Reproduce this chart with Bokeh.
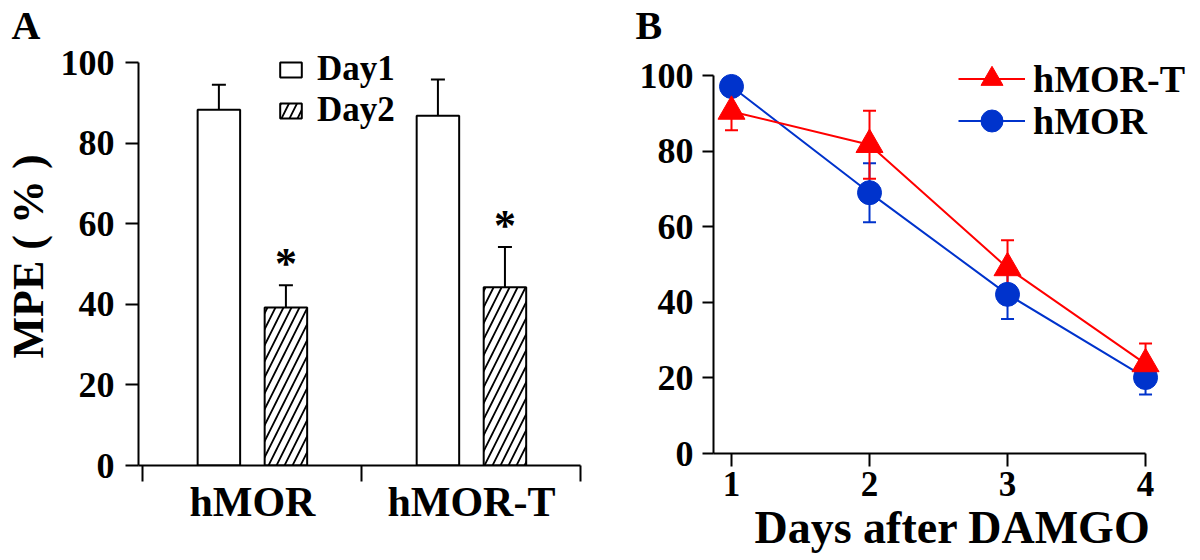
from bokeh.plotting import figure
from bokeh.models import (FixedTicker, Whisker, TeeHead, ColumnDataSource, Legend,
                          LegendItem, Range1d, Title)
from bokeh.layouts import row
from bokeh.embed import file_html
from bokeh.resources import INLINE
from bokeh.core.properties import value

# ---------------- data ----------------
groups = ["hMOR", "hMOR-T"]
day1_mpe = [88.3, 86.8]
day1_err = [6.2, 9.0]
day2_mpe = [39.2, 44.2]
day2_err = [5.5, 10.0]
sig_marks = ["*", "*"]

days = [1, 2, 3, 4]
hmor_mpe = [97.1, 69.0, 42.1, 20.1]
hmor_err = [2.0, 7.8, 6.5, 4.5]
hmort_mpe = [90.5, 81.7, 49.1, 23.7]
hmort_err = [5.0, 9.0, 7.3, 5.4]
y_ticks = [0, 20, 40, 60, 80, 100]

FONT = "Liberation Serif"
RED = "#FF0000"
BLUE = "#0033CC"


def style_axes(p):
    p.xgrid.visible = False
    p.ygrid.visible = False
    p.outline_line_color = None
    p.background_fill_color = "white"
    p.border_fill_color = "white"
    for ax in (p.xaxis[0], p.yaxis[0]):
        ax.axis_line_color = "black"
        ax.axis_line_width = 2
        ax.major_tick_line_color = "black"
        ax.major_tick_line_width = 2
        ax.major_tick_in = 0
        ax.minor_tick_in = 0
        ax.major_label_text_font = FONT
        ax.major_label_text_font_style = "bold"
        ax.major_label_text_color = "black"
        ax.axis_label_text_font = FONT
        ax.axis_label_text_font_style = "bold"
        ax.axis_label_text_color = "black"


def panel_title(text, offset):
    return Title(text=text, align="left", offset=offset, standoff=0,
                 text_font=FONT, text_font_style="bold", text_font_size="40px",
                 text_color="black")


def one_legend(label, renderers, loc, gw, gh, lh, size, standoff):
    return Legend(items=[LegendItem(label=label, renderers=renderers)],
                  location=loc, orientation="vertical",
                  border_line_color=None, background_fill_alpha=0,
                  padding=0, margin=0, spacing=0,
                  glyph_width=gw, glyph_height=gh, label_standoff=standoff, label_height=lh,
                  label_text_font=FONT, label_text_font_style="bold",
                  label_text_font_size=size, label_text_color="black")


# ---------------- panel A ----------------
pa = figure(frame_width=481, frame_height=418, output_backend="svg", toolbar_location=None,
            x_range=Range1d(-0.02, 2.176), y_range=Range1d(0, 418 / 4.03),
            min_border_left=131, min_border_right=0, min_border_top=44, min_border_bottom=92,
            title=panel_title("A", -127))
style_axes(pa)

gx = [i + 0.5 for i in range(len(groups))]
srcA = ColumnDataSource(dict(
    x1=[x - 0.153 for x in gx], x2=[x + 0.153 for x in gx],
    d1=day1_mpe, d2=day2_mpe,
    u1=[v + e for v, e in zip(day1_mpe, day1_err)], l1=[v - e for v, e in zip(day1_mpe, day1_err)],
    u2=[v + e for v, e in zip(day2_mpe, day2_err)], l2=[v - e for v, e in zip(day2_mpe, day2_err)],
    sig=sig_marks,
))

r1 = pa.vbar(x="x1", top="d1", bottom=0, width=0.194, source=srcA,
             fill_color="white", line_color="black", line_width=2)
r2 = pa.vbar(x="x2", top="d2", bottom=0, width=0.194, source=srcA,
             fill_color="white", line_color="black", line_width=2,
             hatch_pattern="/", hatch_color="black", hatch_weight=1.8, hatch_scale=16)

for b, u, l in (("x1", "u1", "l1"), ("x2", "u2", "l2")):
    pa.add_layout(Whisker(source=srcA, base=b, upper=u, lower=l,
                          line_color="black", line_width=2,
                          upper_head=TeeHead(size=14, line_color="black", line_width=2),
                          lower_head=TeeHead(size=14, line_color="black", line_width=2)))

pa.text(x="x2", y="u2", text="sig", source=srcA, text_font=value(FONT),
        text_font_style="bold", text_font_size="44px", text_align="center",
        text_baseline="middle", y_offset=-22, text_color="black")

pa.xaxis.ticker = FixedTicker(ticks=gx, minor_ticks=list(range(len(groups) + 1)))
pa.xaxis.major_label_overrides = {x: g for x, g in zip(gx, groups)}
pa.xaxis.major_tick_out = 0
pa.xaxis.minor_tick_out = 16
pa.xaxis.minor_tick_line_color = "black"
pa.xaxis.minor_tick_line_width = 2
pa.xaxis.major_label_text_font_size = "42px"
pa.xaxis.major_label_standoff = -3
pa.xaxis.bounds = (-0.02, len(groups))

pa.yaxis.ticker = FixedTicker(ticks=y_ticks)
pa.yaxis.bounds = (0, 100)
pa.yaxis.major_tick_out = 13
pa.yaxis.major_label_standoff = 11
pa.yaxis.major_label_text_font_size = "36px"
pa.yaxis.axis_label = "MPE ( % )"
pa.yaxis.axis_label_text_font_size = "44px"
pa.yaxis.axis_label_standoff = 5

pa.add_layout(one_legend("Day1", [r1], (139, 376), 27, 19, 35, "35px", 13))
pa.add_layout(one_legend("Day2", [r2], (139, 335), 27, 19, 35, "35px", 13))

# ---------------- panel B ----------------
pb = figure(frame_width=478, frame_height=406, output_backend="svg", toolbar_location=None,
            x_range=Range1d(0.8696, 4.333), y_range=Range1d(0, 406 / 3.78),
            min_border_left=94, min_border_right=0, min_border_top=44, min_border_bottom=104,
            title=panel_title("B", -78))
style_axes(pb)

srcB = ColumnDataSource(dict(
    d=days, m=hmor_mpe, t=hmort_mpe,
    mu=[v + e for v, e in zip(hmor_mpe, hmor_err)], ml=[v - e for v, e in zip(hmor_mpe, hmor_err)],
    tu=[v + e for v, e in zip(hmort_mpe, hmort_err)], tl=[v - e for v, e in zip(hmort_mpe, hmort_err)],
))

lb = pb.line(x="d", y="m", source=srcB, line_color=BLUE, line_width=2)
sb = pb.scatter(x="d", y="m", source=srcB, marker="circle", size=24,
                fill_color=BLUE, line_color=BLUE)
lt = pb.line(x="d", y="t", source=srcB, line_color=RED, line_width=2)
st = pb.scatter(x="d", y="t", source=srcB, marker="triangle", size=27,
                fill_color=RED, line_color=RED)

for u, l, c in (("mu", "ml", BLUE), ("tu", "tl", RED)):
    pb.add_layout(Whisker(source=srcB, base="d", upper=u, lower=l,
                          line_color=c, line_width=2,
                          upper_head=TeeHead(size=13, line_color=c, line_width=2),
                          lower_head=TeeHead(size=13, line_color=c, line_width=2)))

pb.xaxis.ticker = FixedTicker(ticks=days)
pb.xaxis.bounds = (0.8696, days[-1])
pb.xaxis.major_tick_out = 13
pb.xaxis.major_label_standoff = 5
pb.xaxis.major_label_text_font_size = "35px"
pb.xaxis.axis_label = "Days after DAMGO"
pb.xaxis.axis_label_text_font_size = "46px"
pb.xaxis.axis_label_standoff = 3

pb.yaxis.ticker = FixedTicker(ticks=y_ticks)
pb.yaxis.bounds = (0, 100)
pb.yaxis.major_tick_out = 11
pb.yaxis.major_label_standoff = 9
pb.yaxis.major_label_text_font_size = "36px"

pb.add_layout(one_legend("hMOR-T", [lt, st], (245, 347), 67, 55, 42, "38px", 8))
pb.add_layout(one_legend("hMOR", [lb, sb], (245, 305), 67, 55, 42, "38px", 8))

layout = row(pa, pb)
open("out.html", "w").write(file_html(layout, INLINE))
